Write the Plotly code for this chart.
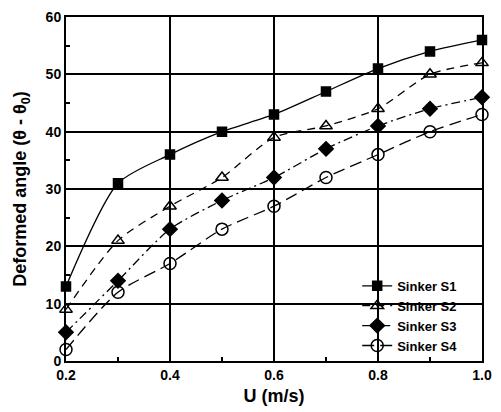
import plotly.graph_objects as go

# Flow speed (m/s)
u = [0.2, 0.3, 0.4, 0.5, 0.6, 0.7, 0.8, 0.9, 1.0]

# Deformed angle for each sinker
s1 = [13, 31, 36, 40, 43, 47, 51, 54, 56]
s2 = [9, 21, 27, 32, 39, 41, 44, 50, 52]
s3 = [5, 14, 23, 28, 32, 37, 41, 44, 46]
s4 = [2, 12, 17, 23, 27, 32, 36, 40, 43]

names = ["Sinker S1", "Sinker S2", "Sinker S3", "Sinker S4"]
series = [s1, s2, s3, s4]

styles = [
    dict(dash="solid", symbol="square", size=9),
    dict(dash="8px,6px", symbol="triangle-up-open", size=11),
    dict(dash="9px,4px,2px,4px", symbol="diamond", size=11),
    dict(dash="12px,6px", symbol="circle-open", size=12),
]

fig = go.Figure()
for name, ys, st in zip(names, series, styles):
    fig.add_trace(go.Scatter(
        x=u, y=ys, name=name, mode="lines+markers",
        line=dict(color="black", width=1.3, dash=st["dash"], shape="spline", smoothing=0.7),
        marker=dict(symbol=st["symbol"], size=st["size"], color="black",
                    line=dict(color="black", width=1.5)),
        cliponaxis=False,
    ))

font_b = "Liberation Sans, Arial, sans-serif"

fig.update_layout(
    width=501, height=412,
    margin=dict(l=66, r=9, t=11, b=49),
    paper_bgcolor="white", plot_bgcolor="white",
    font=dict(family=font_b, color="black"),
    showlegend=True,
    legend=dict(
        x=0.70, y=0.262, xanchor="left", yanchor="top",
        bgcolor="rgba(255,255,255,0)", borderwidth=0,
        font=dict(size=13, family=font_b, weight="bold"),
        tracegroupgap=0, itemwidth=30,
    ),
    shapes=[dict(
        type="rect", xref="paper", yref="paper",
        x0=0.573, x1=0.96, y0=0.031, y1=0.259,
        fillcolor="white", line=dict(width=0), layer="between",
    )],
)

fig.update_xaxes(
    range=[0.2, 1.0], tickvals=[0.2, 0.4, 0.6, 0.8, 1.0],
    ticktext=["0.2", "0.4", "0.6", "0.8", "1.0"],
    showgrid=True, gridcolor="black", gridwidth=1.5,
    showline=True, linecolor="black", linewidth=2, mirror=True,
    ticks="inside", ticklen=6, tickwidth=1.5, tickcolor="black",
    minor=dict(tickvals=[0.3, 0.5, 0.7, 0.9], ticks="inside", ticklen=4,
               tickcolor="black", showgrid=False),
    tickfont=dict(size=14, family=font_b, weight="bold"),
    title=dict(text="U (m/s)", font=dict(size=18, family=font_b, weight="bold"), standoff=8),
    zeroline=False,
)
fig.update_yaxes(
    range=[0, 60], tickvals=[0, 10, 20, 30, 40, 50, 60],
    showgrid=True, gridcolor="black", gridwidth=1.5,
    showline=True, linecolor="black", linewidth=2, mirror=True,
    ticks="inside", ticklen=6, tickwidth=1.5, tickcolor="black",
    minor=dict(tickvals=[5, 15, 25, 35, 45, 55], ticks="inside", ticklen=4,
               tickcolor="black", showgrid=False),
    tickfont=dict(size=14, family=font_b, weight="bold"),
    title=dict(text="Deformed angle (θ - θ<sub>0</sub>)",
               font=dict(size=18, family=font_b, weight="bold"), standoff=14),
    zeroline=False,
)

fig.write_html("out.html")
